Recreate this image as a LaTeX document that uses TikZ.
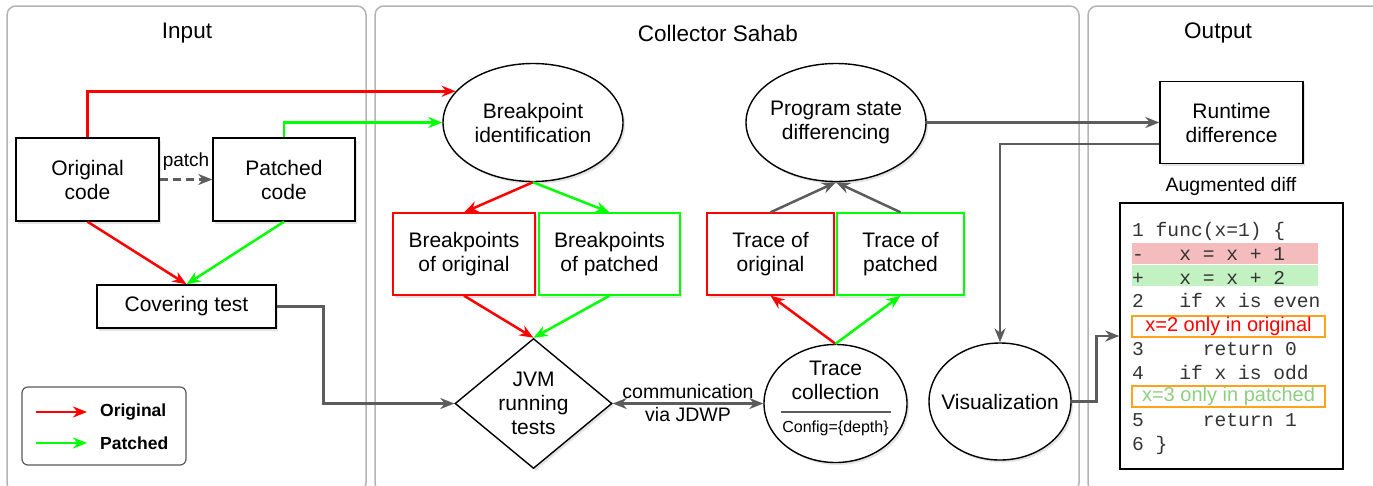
\documentclass[tikz,border=0pt]{standalone}
\usepackage{fontspec}
\setmainfont{Liberation Sans}
\setmonofont{Liberation Mono}
\usetikzlibrary{arrows.meta}
\usetikzlibrary{shapes.geometric}
\usetikzlibrary{shadows}
\definecolor{panelgray}{HTML}{B4B4B4}
\definecolor{linkgray}{HTML}{5C5C5C}
\definecolor{origred}{HTML}{FF0000}
\definecolor{patchgreen}{HTML}{00FF00}
\definecolor{delbg}{HTML}{F4BCBC}
\definecolor{addbg}{HTML}{C2F2C2}
\definecolor{notegreen}{HTML}{8CCF7E}
\definecolor{noteorange}{HTML}{FFA31A}
\newcommand{\mainsize}{\fontsize{21}{24}\selectfont}
\newcommand{\codesize}{\fontsize{19.6}{23}\selectfont}
\tikzset{
  >={Stealth[length=14pt,width=11pt,inset=4.5pt]},
  panel/.style={draw=panelgray,line width=1.5pt,rounded corners=9pt},
  soft/.style={drop shadow={shadow xshift=2pt,shadow yshift=-2.5pt,opacity=0.22}},
  procbox/.style={draw,fill=white,line width=1.4pt,align=center,font=\mainsize,inner sep=0pt,soft},
  oval/.style={procbox,ellipse},
  decide/.style={procbox,diamond,aspect=1.2},
  wire/.style={line width=2.5pt,->},
  origwire/.style={wire,origred},
  patchwire/.style={wire,patchgreen},
  flow/.style={wire,linkgray},
  codeline/.style={anchor=base west,inner sep=0pt,font=\ttfamily\codesize,text=black!80},
  note/.style={draw=noteorange,line width=1.2pt,minimum width=193pt,minimum height=21pt,
    inner sep=0pt,font=\fontsize{20}{22}\selectfont},
}

\begin{document}
\begin{tikzpicture}[x=1pt,y=-1pt]
    \useasboundingbox (0,0) rectangle (1373,485);
    \clip (0,0) rectangle (1373,485);
    % Panels
    \draw[panel] (7,6) rectangle (366,492);
    \draw[panel] (375,6) rectangle (1079,492);
    \draw[panel] (1088,6) rectangle (1390,492);
    \node[font=\fontsize{22.5}{26}\selectfont] (intitle) at (187,33) {Input};
    \node[font=\fontsize{22.5}{26}\selectfont] (coltitle) at (718,33) {Collector Sahab};
    \node[font=\fontsize{22.5}{26}\selectfont] (outtitle) at (1218,33) {Output};
    % Input
    \node[procbox,minimum width=143pt,minimum height=83pt] (orig) at (87.5,179.5) {Original\\code};
    \node[procbox,minimum width=142pt,minimum height=83pt] (patched) at (284,179.5) {Patched\\code};
    \node[procbox,minimum width=179pt,minimum height=43pt] (cover) at (186.5,306.5) {Covering test};
    % Legend
    \draw[black!65,line width=1.2pt,rounded corners=6pt] (22,387) rectangle (186,465);
    \coordinate (lgo1) at (36,412);
    \coordinate (lgo2) at (87,412);
    \coordinate (lgp1) at (36,443);
    \coordinate (lgp2) at (87,443);
    \draw[origwire] (lgo1) -- (lgo2);
    \draw[patchwire] (lgp1) -- (lgp2);
    \node[anchor=west,inner sep=0pt,font=\fontsize{17.5}{20}\selectfont\bfseries] (lgotext) at (100,412) {Original};
    \node[anchor=west,inner sep=0pt,font=\fontsize{17.5}{20}\selectfont\bfseries] (lgptext) at (100,443) {Patched};
    % Collector Sahab
    \node[oval,minimum width=180pt,minimum height=118pt] (bpid) at (533,122.5) {Breakpoint\\identification};
    \node[procbox,draw=origred,minimum width=142pt,minimum height=82pt] (bporig) at (464,254) {Breakpoints\\of original};
    \node[procbox,draw=patchgreen,minimum width=141pt,minimum height=82pt] (bppat) at (609.5,254) {Breakpoints\\of patched};
    \node[decide,minimum width=157pt,minimum height=130pt] (jvm) at (533.5,403.5) {JVM\\running\\tests};
    \node[oval,inner xsep=-5pt,minimum width=180pt,minimum height=118pt] (psd) at (836,122.5) {Program state\\differencing};
    \node[procbox,draw=origred,minimum width=127pt,minimum height=82pt] (trorig) at (770.5,254) {Trace of\\original};
    \node[procbox,draw=patchgreen,minimum width=127pt,minimum height=82pt] (trpat) at (900.5,254) {Trace of\\patched};
    \node[oval,minimum width=143pt,minimum height=118pt] (tc) at (835.5,403.5) {};
    \node[align=center,inner sep=0pt,font=\mainsize] (tcname) at (835.5,380) {Trace\\collection};
    \node[inner sep=0pt,font=\fontsize{16}{18}\selectfont] (tccfg) at (835.5,428) {Config=\{depth\}};
    \draw[linkgray,line width=1.2pt] ([xshift=-55pt,yshift=-8.5pt]tc.center) -- ([xshift=55pt,yshift=-8.5pt]tc.center);
    \node[oval,inner xsep=-10pt,minimum width=142pt,minimum height=117pt] (vis) at (1000,401.5) {Visualization};
    % Output
    \node[procbox,minimum width=143pt,minimum height=82pt] (rtd) at (1231.5,122.5) {Runtime\\difference};
    \node[font=\fontsize{19.5}{22}\selectfont] (augl) at (1231,186) {Augmented diff};
    \node[draw,line width=1.5pt,minimum width=223pt,minimum height=266pt,inner sep=0pt] (code) at (1231.5,336) {};
    \fill[delbg] (1132,243) rectangle (1318,264);
    \fill[addbg] (1132,265) rectangle (1318,286);
    \node[codeline] (l1) at (1132,236) {1\ func(x=1)\ \{};
    \node[codeline] (ldel) at (1132,260) {-\ \ \ x = x + 1};
    \node[codeline] (ladd) at (1132,284) {+\ \ \ x = x + 2};
    \node[codeline] (l2) at (1132,307) {2\ \ \ if x is even};
    \node[note,text=origred] (onlyorig) at (1228.5,326.5) {x=2 only in original};
    \node[codeline] (l3) at (1132,355) {3\ \ \ \ \ return 0};
    \node[codeline] (l4) at (1132,379) {4\ \ \ if x is odd};
    \node[note,text=notegreen] (onlypat) at (1228.5,396.5) {x=3 only in patched};
    \node[codeline] (l5) at (1132,426) {5\ \ \ \ \ return 1};
    \node[codeline] (l6) at (1132,450) {6\ \}};
    % Wires
    \draw[flow,dash pattern=on 8pt off 5pt] (orig.east) -- node[midway,yshift=17.5pt,inner sep=0pt,text=black,font=\fontsize{19}{22}\selectfont] (patchlbl) {patch} (patched.west);
    \draw[origwire] (orig.south) -- (cover.north);
    \draw[patchwire] (patched.south) -- (cover.north);
    \draw[origwire] (orig.north) |- (bpid.158);
    \draw[patchwire] (patched.north) |- (bpid.west);
    \draw[origwire] (bpid.south) -- (bporig.north);
    \draw[patchwire] (bpid.south) -- (bppat.north);
    \draw[origwire] (bporig.south) -- (jvm.north);
    \draw[patchwire] (bppat.south) -- (jvm.north);
    \draw[flow] (cover.east) -- ++(47,0) |- (jvm.west);
    \draw[flow,<->] (tc.west) -- node[midway,align=center,inner sep=0pt,text=black,font=\fontsize{19.5}{23}\selectfont] (jdwp) {communication\\via JDWP} (jvm.east);
    \draw[origwire] (tc.north) -- (trorig.south);
    \draw[patchwire] (tc.north) -- (trpat.south);
    \draw[flow] (trorig.north) -- (psd.south);
    \draw[flow] (trpat.north) -- (psd.south);
    \draw[flow] (psd.east) -- (rtd.west);
    \draw[flow] ([yshift=-21.5pt]rtd.west) -| (vis.north);
    \draw[flow] (vis.east) -- ++(25,0) |- (code.west);
\end{tikzpicture}
\end{document}
